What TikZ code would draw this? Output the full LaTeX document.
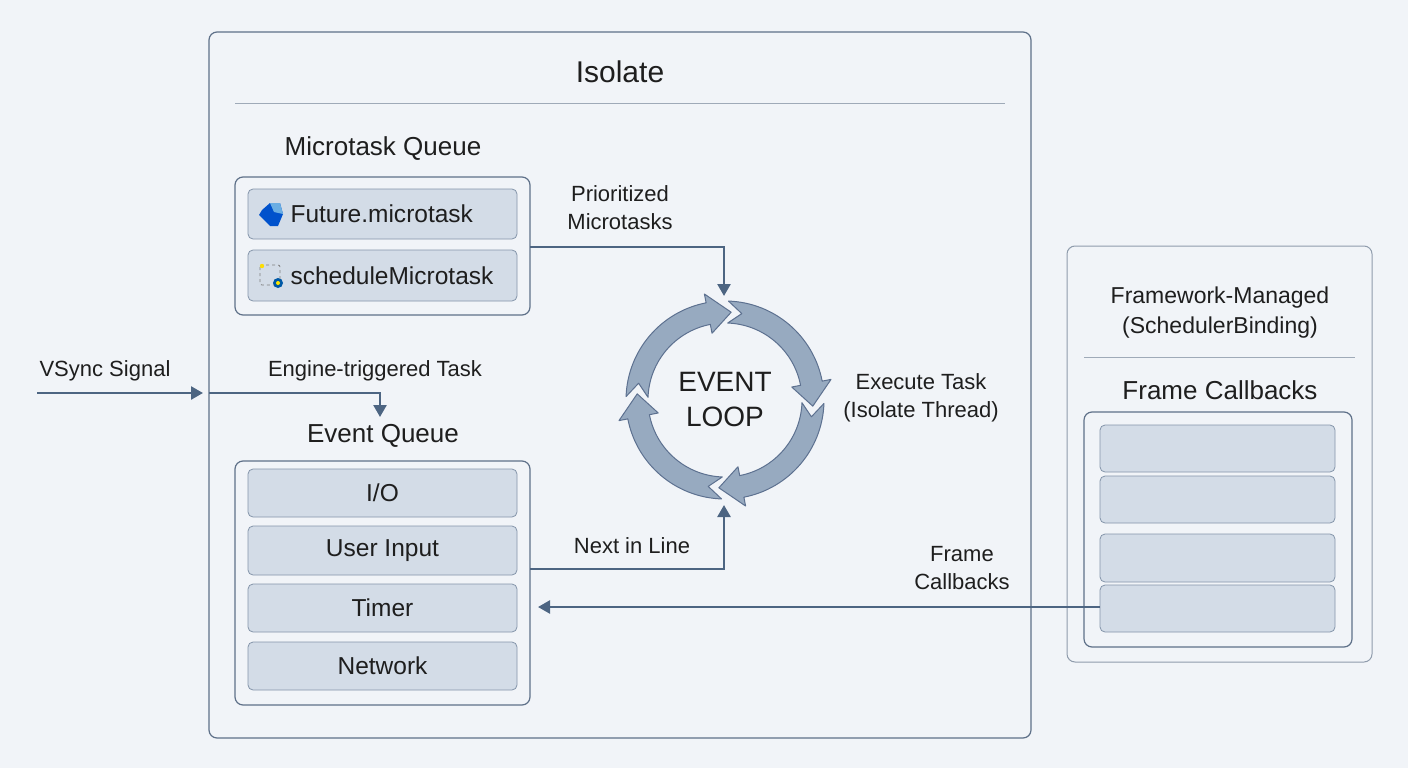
\documentclass[tikz,border=0pt]{standalone}
\usepackage{fontspec}
\setmainfont{Liberation Sans}
\usetikzlibrary{arrows.meta}
\definecolor{bg}{HTML}{F1F4F8}
\definecolor{bord}{HTML}{5F7189}
\definecolor{itemf}{HTML}{D3DCE7}
\definecolor{itemb}{HTML}{8495AA}
\definecolor{arr}{HTML}{4D6582}
\definecolor{loopf}{HTML}{97AAC0}
\definecolor{loopb}{HTML}{5D7190}
\definecolor{txt}{HTML}{1E1E1E}
\begin{document}
\begin{tikzpicture}[x=1pt,y=-1pt,
  box/.style={draw=bord,line width=1.2pt,rounded corners=8pt},
  item/.style={draw=itemb,fill=itemf,line width=0.8pt,rounded corners=5pt},
  conn/.style={draw=arr,line width=2.5pt,-{Triangle[length=12pt,width=13pt]}},
  lbl/.style={text=txt,font=\fontsize{22}{28}\selectfont,align=center},
  head/.style={text=txt,font=\fontsize{26}{30}\selectfont},
  itxt/.style={text=txt,font=\fontsize{24.5}{28}\selectfont}]
\fill[bg] (0,0) rectangle (1408,768);
\useasboundingbox (0,0) rectangle (1408,768);
% Isolate
\draw[box] (209,32) rectangle (1031,738);
\node[text=txt,font=\fontsize{30}{34}\selectfont] (iso) at (620,72) {Isolate};
\draw[bord!60,line width=0.8pt] (235,103) -- (1005,103);
% Microtask queue
\node[head] (mqt) at (383,149) {Microtask Queue};
\draw[box,fill=bg] (235,177) rectangle (530,315);
\draw[item] (248,189) rectangle (517,239);
\draw[item] (248,250) rectangle (517,301);
\node[itxt,anchor=west] (fm) at (287,214) {Future.microtask};
\node[itxt,anchor=west] (sm) at (287,276) {scheduleMicrotask};
% dart icon
\fill[blue!60!cyan!80!black] (262,210) -- (270,203) -- (280,203) -- (283,214) -- (278,226) -- (270,226) -- (259,215) -- cycle;
\fill[cyan!70!blue!60] (270,203) -- (280,203) -- (283,214) -- (274,212) -- cycle;
% schedule icon
\draw[gray,dashed,line width=0.8pt,rounded corners=2pt] (260,265) rectangle (280,285);
\fill[yellow!80!orange] (262,266) circle (2.2pt);
\fill[teal!70!blue] (278,283) circle (5pt);
\fill[yellow!90!orange] (278,283) circle (2pt);
% Event loop
\coordinate (lc) at (725,400);
\node[text=txt,font=\fontsize{28}{35}\selectfont,align=center] (loop) at (lc) {EVENT\\LOOP};
\begin{scope}[shift={(lc)}]
\foreach \s in {88,-2,-92,-182}{
  \pgfmathsetmacro{\t}{\s-92}
  \pgfmathsetmacro{\h}{\s-77}
  \pgfmathsetmacro{\n}{\s-9}
  \filldraw[fill=loopf,draw=loopb,line width=1pt,line join=round]
   (\s:99pt) arc[start angle=\s,end angle=\h,radius=99pt]
   -- (\h:108pt) -- (\t:88pt) -- (\h:68pt) -- (\h:77pt)
   arc[start angle=\h,end angle=\s,radius=77pt] -- (\n:88pt) -- cycle;
}
\end{scope}
\coordinate (ltop) at (724,296);
\coordinate (lbot) at (724,505);
% Prioritized
\node[lbl] (pm) at (620,208) {Prioritized\\Microtasks};
\draw[conn] (530,247) -- (724,247) -- (ltop);
% Execute
\node[lbl] (ex) at (921,398) {Execute Task\\(Isolate Thread)};
% VSync
\node[lbl] (vs) at (105,371) {VSync Signal};
\coordinate (vs0) at (37,393);
\coordinate (vs1) at (203,393);
\draw[conn] (vs0) -- (vs1);
\node[lbl] (et) at (375,371) {Engine-triggered Task};
\coordinate (et0) at (209,393);
\coordinate (et1) at (380,417);
\draw[conn] (et0) -- (380,393) -- (et1);
% Event queue
\node[head] (eqt) at (383,436) {Event Queue};
\draw[box,fill=bg] (235,461) rectangle (530,705);
\foreach \y/\a/\b/\l in {1/469/517/I\slash O,2/526/575/User Input,3/584/632/Timer,4/642/690/Network}{
  \draw[item] (248,\a) rectangle (517,\b);
  \node[itxt] (e\y) at (382.5,{(\a+\b)/2}) {\l};
}
% Next in line
\node[lbl] (nl) at (632,546) {Next in Line};
\draw[conn] (530,569) -- (724,569) -- (lbot);
% Framework
\draw[box,line width=1pt,draw=bord!70] (1067,246) rectangle (1372,662);
\node[lbl,font=\fontsize{23}{30}\selectfont] (fw) at (1220,313) {Framework-Managed\\(SchedulerBinding)};
\draw[bord!60,line width=0.8pt] (1084,357) -- (1355,357);
\node[head] (fct) at (1220,390) {Frame Callbacks};
\draw[box] (1084,412) rectangle (1352,647);
\foreach \i/\a/\b in {1/425/472,2/476/523,3/534/582,4/585/632}{
  \draw[item] (1100,\a) rectangle (1335,\b);
  \coordinate (f\i) at (1100,{(\a+\b)/2});
}
\node[lbl] (fcl) at (962,568) {Frame\\Callbacks};
\coordinate (fcend) at (538,607);
\draw[conn] (f4|-0,607) -- (fcend);
\end{tikzpicture}
\end{document}
